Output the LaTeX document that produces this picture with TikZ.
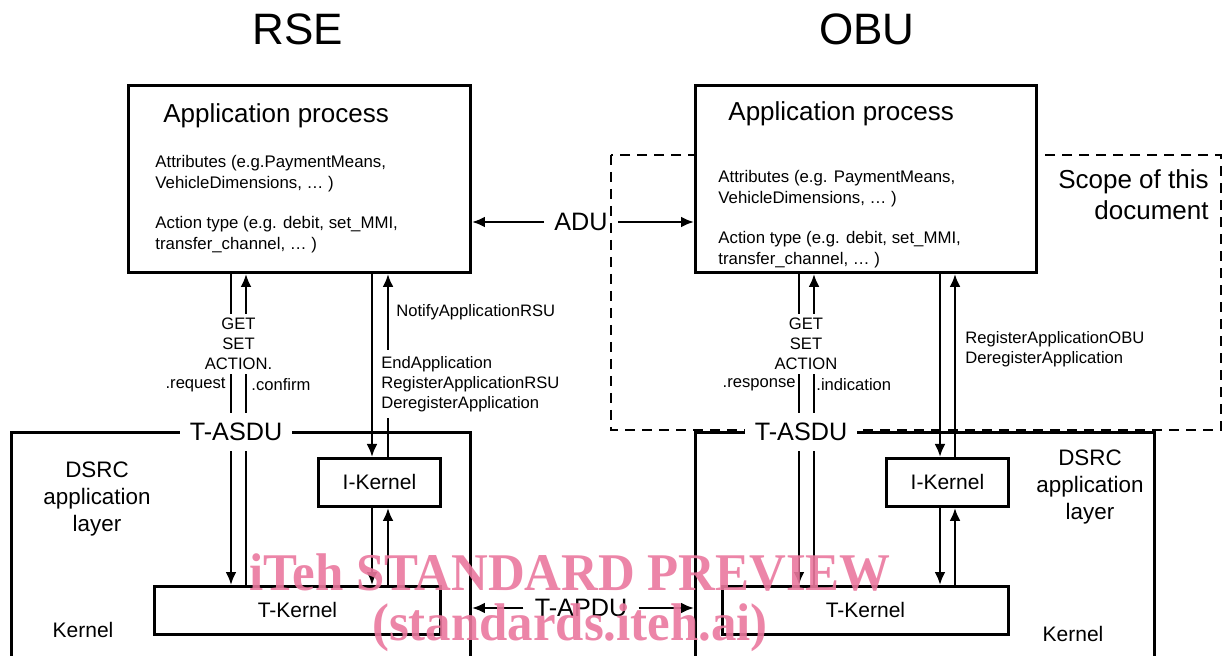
\documentclass[tikz,border=0pt]{standalone}
\usepackage{fontspec}
\setmainfont{Liberation Sans}
\newfontfamily\wmfont{Liberation Serif}
\usetikzlibrary{arrows.meta}

\definecolor{wmpink}{RGB}{234,120,158}
\newcommand{\fsz}[2]{\fontsize{#1}{#2}\selectfont}
% style, name, x1, y1, x2, y2, text
\newcommand{\mkbox}[7]{\node[#1, anchor=north west, minimum width={(#5-#3)*0.5pt}, minimum height={(#6-#4)*0.5pt}] (#2) at (#3,#4) {#7};}

\tikzset{
  frame/.style={draw, line width=1.45pt, inner sep=0pt},
  box/.style={frame, fill=white, font=\fsz{10.5}{13}},
  link/.style={line width=1.45pt},
  arr/.style={link, -{Latex[length=6.5pt,width=5.5pt]}},
  scopeline/.style={line width=0.65pt, dash pattern=on 5pt off 3.5pt},
  title/.style={font=\fsz{22}{26}, inner sep=0pt},
  head/.style={font=\fsz{13}{16}, inner sep=0pt},
  note/.style={font=\fsz{8.4}{10.5}, inner sep=0pt, align=left},
  small/.style={font=\fsz{8.3}{10}, inner sep=0pt},
  big/.style={font=\fsz{12.6}{15}},
  mid/.style={font=\fsz{10.5}{13}, inner sep=0pt},
  layer/.style={font=\fsz{11.2}{13.5}, inner sep=0pt, align=center},
  wm/.style={font=\wmfont\bfseries\fsz{26.5}{30}, text=wmpink, text opacity=0.9, anchor=base, inner sep=0pt, xscale=0.96},
}

\begin{document}
\begin{tikzpicture}[x=0.5pt, y=-0.5pt]
  \useasboundingbox (0,0) rectangle (1224,656);
  \clip (0,0) rectangle (1224,656);

  \node[title] (rse) at (298,29) {RSE};
  \node[title] (obu) at (867,29) {OBU};

  \draw[scopeline] (611,155) rectangle (1221,430);
  \node[head, anchor=east, align=right, font=\fsz{13}{15.5}] (scope) at (1209,195) {Scope of this\\document};

  \mkbox{frame}{dslL}{10}{431}{469}{720}{}
  \mkbox{frame}{dslR}{694}{431}{1153}{720}{}
  \mkbox{box}{apL}{127}{84}{469}{271}{}
  \mkbox{box}{apR}{694}{84}{1035}{271}{}
  \mkbox{box}{ikL}{317}{457}{439}{505}{I-Kernel}
  \mkbox{box}{tkL}{153}{585}{439}{633}{T-Kernel}
  \mkbox{box}{ikR}{885}{457}{1007}{505}{I-Kernel}
  \mkbox{box}{tkR}{721}{585}{1007}{633}{T-Kernel}

  \node[head, anchor=base west] (apLt) at (163,123) {Application process};
  \node[note, anchor=north west] (apLn) at (155,155) {Attributes (e.g.PaymentMeans,\\VehicleDimensions, … )\\[9.5pt]Action type (e.g. debit, set\_MMI,\\transfer\_channel, … )};
  \node[head, anchor=base west] (apRt) at (728,121) {Application process};
  \node[note, anchor=north west] (apRn) at (718,170) {Attributes (e.g. PaymentMeans,\\VehicleDimensions, … )\\[9.5pt]Action type (e.g. debit, set\_MMI,\\transfer\_channel, … )};

  \node[big, inner xsep=5pt] (adu) at (581,222) {ADU};
  \draw[arr] (adu.west) -- (adu.west -| apL.east);
  \draw[arr] (adu.east) -- (adu.east -| apR.west);
  \node[big, inner xsep=5.5pt] (apdu) at (581,608) {T-APDU};
  \draw[arr] (apdu.west) -- (apdu.west -| dslL.east);
  \draw[arr] (apdu.east) -- (apdu.east -| dslR.west);

  \foreach \ap/\ik/\tk/\xa/\xb/\xc/\xd in {apL/ikL/tkL/231/246/372/388, apR/ikR/tkR/799/814/940/955} {
    \draw[arr] (\ap.south -| \xa,0) -- (\tk.north -| \xa,0);
    \draw[arr] (\tk.north -| \xb,0) -- (\ap.south -| \xb,0);
    \draw[arr] (\ap.south -| \xc,0) -- (\ik.north -| \xc,0);
    \draw[arr] (\ik.north -| \xd,0) -- (\ap.south -| \xd,0);
    \draw[arr] (\ik.south -| \xc,0) -- (\tk.north -| \xc,0);
    \draw[arr] (\tk.north -| \xd,0) -- (\ik.south -| \xd,0);
  }

  \node[small, fill=white, inner sep=2pt, align=center] (gsaL) at (238.5,344) {GET\\SET\\ACTION.};
  \node[small, anchor=east] (reqL) at (226,385) {.request};
  \node[small, anchor=west] (cnfL) at (251,385) {.confirm};
  \node[small, anchor=west] (notify) at (396,312) {NotifyApplicationRSU};
  \node[small, fill=white, inner xsep=2pt, inner ysep=3pt, align=left, anchor=west] (endapp) at (377,384) {EndApplication\\RegisterApplicationRSU\\DeregisterApplication};

  \node[small, fill=white, inner sep=2pt, align=center] (gsaR) at (806,344) {GET\\SET\\ACTION};
  \node[small, anchor=east] (rspR) at (796,385) {.response};
  \node[small, anchor=west] (indR) at (816,385) {.indication};
  \node[small, anchor=west, align=left] (regR) at (965,349) {RegisterApplicationOBU\\DeregisterApplication};

  \node[big, fill=white, inner sep=5pt] (asduL) at (236,432) {T-ASDU};
  \node[big, fill=white, inner sep=5pt] (asduR) at (801,432) {T-ASDU};

  \node[layer] (dsrcL) at (97,499) {DSRC\\application\\layer};
  \node[layer] (dsrcR) at (1090,487) {DSRC\\application\\layer};
  \node[mid] (kerL) at (83,630) {Kernel};
  \node[mid] (kerR) at (1073,634) {Kernel};

  \node[wm] (wm1) at (570,590) {iTeh STANDARD PREVIEW};
  \node[wm] (wm2) at (570,640) {(standards.iteh.ai)};
\end{tikzpicture}
\end{document}
